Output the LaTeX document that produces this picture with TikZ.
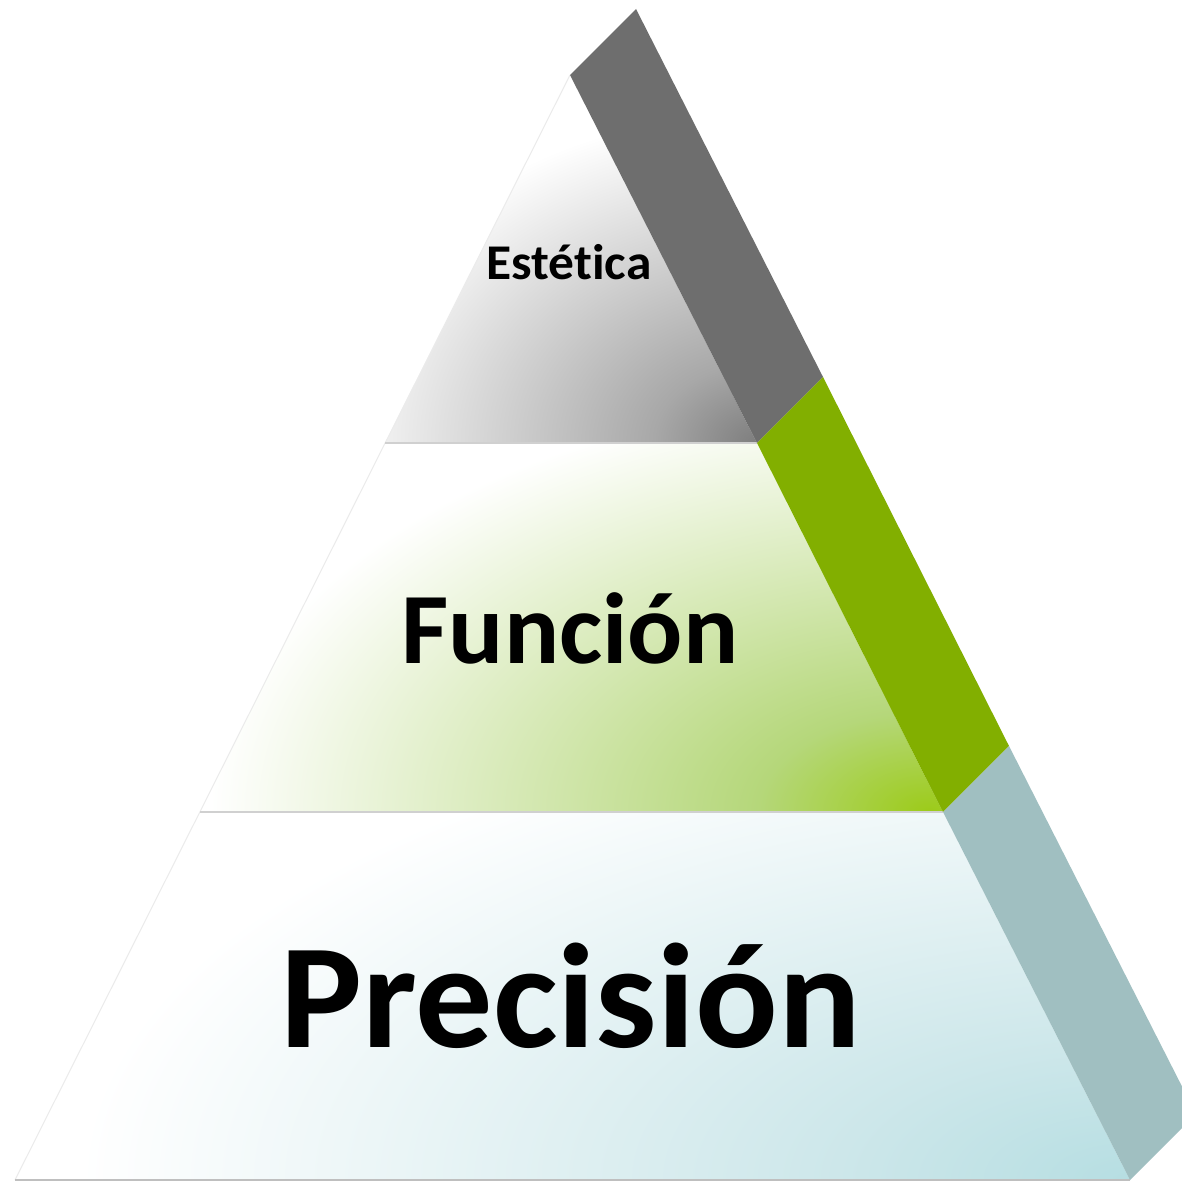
\documentclass[tikz,border=0pt]{standalone}
\usepackage{fontspec}
\setmainfont{Carlito}[Ligatures=NoCommon]
\definecolor{stripgray}{HTML}{6E6E6E}
\definecolor{stripgreen}{HTML}{82AF00}
\definecolor{stripblue}{HTML}{A0BFC1}
\definecolor{graycore}{HTML}{7E7E7E}
\definecolor{graymid}{HTML}{A8A8A8}
\definecolor{greencore}{HTML}{9CCB19}
\definecolor{greenmid}{HTML}{B5D77A}
\definecolor{bluecore}{HTML}{B6DEE2}
\definecolor{bluemid}{HTML}{CDE7EA}
\definecolor{edgeline}{HTML}{D0D0D0}
\pgfdeclareradialshading{grayrad}{\pgfpoint{0bp}{0bp}}{color(0bp)=(graycore); color(6bp)=(graymid); color(25bp)=(white); color(50bp)=(white)}
\pgfdeclareradialshading{greenrad}{\pgfpoint{0bp}{0bp}}{color(0bp)=(greencore); color(6bp)=(greenmid); color(25bp)=(white); color(50bp)=(white)}
\pgfdeclareradialshading{bluerad}{\pgfpoint{0bp}{0bp}}{color(0bp)=(bluecore); color(7bp)=(bluemid); color(25bp)=(white); color(50bp)=(white)}
\begin{document}
\begin{tikzpicture}[x=1pt,y=-1pt,
  lbl/.style={inner sep=0pt, anchor=base, text=black},
  sep/.style={draw=edgeline, line width=1.5pt},
  side/.style={draw=black!8, line width=1pt}]
\useasboundingbox (0,0) rectangle (1182,1182);
\fill[white] (0,0) rectangle (1182,1182);
% front corners
\coordinate (A) at (570,75);
\coordinate (L1) at (385,443);
\coordinate (R1) at (757,443);
\coordinate (L2) at (200,812);
\coordinate (R2) at (943,812);
\coordinate (L3) at (15,1180);
\coordinate (R3) at (1130,1180);
% strip corners
\coordinate (SA) at (636,9);
\coordinate (S1) at (823,377);
\coordinate (S2) at (1009,746);
\coordinate (S3) at (1196,1114);
% top section
\begin{scope}
  \clip (A) -- (L1) -- (R1) -- cycle;
  \fill[white] (A) -- (L1) -- (R1) -- cycle;
  \shade[shading=grayrad] (757,443) ellipse [x radius=430pt, y radius=330pt];
\end{scope}
% middle section
\begin{scope}
  \clip (L1) -- (L2) -- (R2) -- (R1) -- cycle;
  \fill[white] (L1) -- (L2) -- (R2) -- (R1) -- cycle;
  \shade[shading=greenrad] (930,812) ellipse [x radius=720pt, y radius=420pt];
\end{scope}
% bottom section
\begin{scope}
  \clip (L2) -- (L3) -- (R3) -- (R2) -- cycle;
  \fill[white] (L2) -- (L3) -- (R3) -- (R2) -- cycle;
  \shade[shading=bluerad] (1130,1180) ellipse [x radius=1050pt, y radius=480pt];
\end{scope}
% edges
\draw[side] (A) -- (L3);
\draw[sep] (L1) -- (R1);
\draw[sep] (L2) -- (R2);
\draw[draw=black!25, line width=2pt] (L3) -- (R3);
% side strip
\begin{scope}
  \clip (0,0) rectangle (1182,1182);
  \fill[stripgray] (A) -- (SA) -- (S1) -- (R1) -- cycle;
  \fill[stripgreen] (R1) -- (S1) -- (S2) -- (R2) -- cycle;
  \fill[stripblue] (R2) -- (S2) -- (S3) -- (R3) -- cycle;
\end{scope}
% labels
\node[lbl, font=\fontsize{50}{60}\selectfont\bfseries] (est) at (569,279) {\scalebox{1.03}[1]{Estética}};
\node[lbl, font=\fontsize{101}{120}\selectfont\bfseries] (fun) at (570,663) {\scalebox{1.02}[1]{Función}};
\node[lbl, font=\fontsize{149}{180}\selectfont\bfseries] (pre) at (571,1047) {\scalebox{1.035}[1]{Precisión}};
\end{tikzpicture}
\end{document}
